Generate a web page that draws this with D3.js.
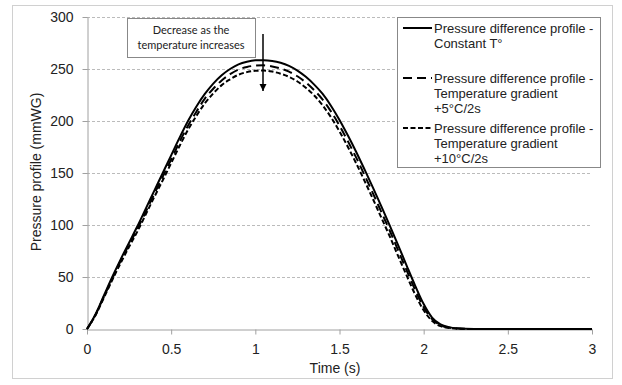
<!DOCTYPE html>
<html>
<head>
<meta charset="utf-8">
<script src="https://cdn.jsdelivr.net/npm/d3@7"></script>
<style>
  body { margin: 0; background: #fff; }
  svg text { font-family: "Liberation Sans", Arial, sans-serif; fill: #222; }
</style>
</head>
<body>
<svg id="chart" width="622" height="385"></svg>
<script>
// Time values (s)
var times = [0, 0.05, 0.1, 0.15, 0.2, 0.25, 0.3, 0.35, 0.4, 0.45, 0.5, 0.55, 0.6, 0.65, 0.7, 0.75, 0.8, 0.85, 0.9, 0.95, 1.0, 1.05,
  1.1, 1.15, 1.2, 1.25, 1.3, 1.35, 1.4, 1.45, 1.5, 1.55, 1.6, 1.65, 1.7, 1.75, 1.8, 1.85, 1.9, 1.95, 2.0, 2.05, 2.1, 2.15, 2.2,
  2.3, 2.5, 3.0]

// Pressure profiles (mmWG)
var constantT = [0, 14, 32, 50, 67, 83, 99, 116, 133, 150, 167, 184, 200, 214, 226, 236, 244, 250, 254.5, 257, 258.3, 258.5,
  257.8, 256, 253, 248.5, 242.5, 235, 226, 214.5, 201, 186, 170, 153, 135.5, 117.5, 99, 80, 60.5, 41.5, 24, 11, 4.5, 1.8, 0.7,
  0.1, 0, 0]
var gradient5 = [0, 13.5, 31, 48.5, 65.5, 81, 96.5, 113, 130, 146.5, 163, 180, 195.5, 209, 221.5, 231, 239, 245, 249.5, 252, 253.2, 253.5,
  252.5, 250.5, 247.5, 243, 237, 229.5, 220.5, 209, 195.5, 180.5, 164.5, 147.5, 130, 112, 94, 75, 56, 37.5, 21, 9.5, 3.6, 1.4, 0.5,
  0, 0, 0]
var gradient10 = [0, 13, 30, 47, 63.5, 79, 94, 110.5, 127, 143, 159.5, 176, 191.5, 205, 217, 226.5, 234.5, 240, 244.5, 247, 248.3, 248.5,
  247.5, 245.5, 242.5, 238, 232, 224.5, 215, 203.5, 190, 175, 159, 142, 124.5, 106.5, 88.5, 69.5, 51, 33, 18, 7.8, 2.8, 1, 0.3,
  0, 0, 0]

var xTicks = [0, 0.5, 1, 1.5, 2, 2.5, 3]
var yTicks = [0, 50, 100, 150, 200, 250, 300]

var seriesNames = [
  ['Pressure difference profile -', 'Constant T°'],
  ['Pressure difference profile -', 'Temperature gradient', '+5°C/2s'],
  ['Pressure difference profile -', 'Temperature gradient', '+10°C/2s']
]
var annotation = ['Decrease as the', 'temperature increases']

var conf = {
  left: 87,
  right: 592,
  top: 17,
  bottom: 329
}

var dashes = [null, '9,5', '5,2.5']

var svg = d3.select('#chart')

// Outer frame
svg.append('rect')
  .attr('x', 12.5).attr('y', 5.5)
  .attr('width', 600).attr('height', 373)
  .attr('fill', '#fff')
  .attr('stroke', '#d0d0d0')

var x = d3.scaleLinear().domain([0, 3]).range([conf.left, conf.right])
var y = d3.scaleLinear().domain([0, 300]).range([conf.bottom, conf.top])

// Gridlines
svg.append('g')
  .selectAll('line')
  .data(yTicks.filter(function (d) { return d > 0 }))
  .enter()
    .append('line')
    .attr('x1', conf.left).attr('x2', conf.right)
    .attr('y1', function (d) { return Math.round(y(d)) + 0.5 })
    .attr('y2', function (d) { return Math.round(y(d)) + 0.5 })
    .attr('stroke', '#bbb')
    .attr('stroke-dasharray', '3,2')

// X axis
var xAxis = svg.append('g')
  .attr('transform', 'translate(0,' + (conf.bottom + 0.5) + ')')
  .call(d3.axisBottom(x).tickValues(xTicks).tickSize(5).tickSizeOuter(0).tickFormat(d3.format('')))
xAxis.select('.domain').attr('stroke', '#a0a0a0')
xAxis.selectAll('.tick line').attr('stroke', '#a0a0a0')
xAxis.selectAll('.tick text').attr('font-size', 14).attr('y', 24).attr('dy', 0)

// Y axis
var yAxis = svg.append('g')
  .attr('transform', 'translate(' + (conf.left + 0.5) + ',0)')
  .call(d3.axisLeft(y).tickValues(yTicks).tickSize(5).tickSizeOuter(0))
yAxis.select('.domain').attr('stroke', '#a0a0a0')
yAxis.selectAll('.tick line').attr('stroke', '#a0a0a0')
yAxis.selectAll('.tick text').attr('font-size', 14).attr('x', -14)

// Axis titles
svg.append('text')
  .attr('x', 335)
  .attr('y', 373)
  .attr('text-anchor', 'middle')
  .attr('font-size', 14)
  .text('Time (s)')

svg.append('text')
  .attr('transform', 'translate(41,' + 172 + ') rotate(-90)')
  .attr('text-anchor', 'middle')
  .attr('font-size', 14)
  .text('Pressure profile (mmWG)')

// Curves
var line = d3.line()
  .x(function (d) { return x(d[0]) })
  .y(function (d) { return y(d[1]) })
  .curve(d3.curveMonotoneX)

var allSeries = [constantT, gradient5, gradient10]
allSeries.forEach(function (vals, i) {
  svg.append('path')
    .datum(times.map(function (t, j) { return [t, vals[j]] }))
    .attr('fill', 'none')
    .attr('stroke', '#000')
    .attr('stroke-width', 2)
    .attr('stroke-dasharray', dashes[i])
    .attr('d', line)
})

// Annotation box
svg.append('rect')
  .attr('x', 127.5).attr('y', 18.5)
  .attr('width', 128).attr('height', 39)
  .attr('fill', '#fff')
  .attr('stroke', '#888')

svg.append('g')
  .selectAll('text')
  .data(annotation)
  .enter()
    .append('text')
    .attr('x', 191)
    .attr('y', function (d, i) { return 34 + i * 15 })
    .attr('text-anchor', 'middle')
    .attr('font-size', 11)
    .style('font-family', 'Lato, "Open Sans", sans-serif')
    .text(function (d) { return d })

// Arrow
svg.append('defs').append('marker')
  .attr('id', 'arrow')
  .attr('viewBox', '0 0 10 10')
  .attr('refX', 10).attr('refY', 5)
  .attr('markerWidth', 5).attr('markerHeight', 5)
  .attr('orient', 'auto')
  .append('path')
    .attr('d', 'M0,0 L10,5 L0,10 z')
    .attr('fill', '#000')

svg.append('line')
  .attr('x1', 263).attr('x2', 263)
  .attr('y1', 34).attr('y2', 91)
  .attr('stroke', '#000')
  .attr('stroke-width', 1.5)
  .attr('marker-end', 'url(#arrow)')

// Legend
var legend = svg.append('g')
legend.append('rect')
  .attr('x', 397.5).attr('y', 17.5)
  .attr('width', 203).attr('height', 150)
  .attr('fill', '#fff')
  .attr('stroke', '#888')

var entryY = [28, 78, 128]
seriesNames.forEach(function (lines, i) {
  legend.append('line')
    .attr('x1', 403).attr('x2', 432)
    .attr('y1', entryY[i]).attr('y2', entryY[i])
    .attr('stroke', '#000')
    .attr('stroke-width', 2)
    .attr('stroke-dasharray', dashes[i])

  legend.selectAll('text.l' + i)
    .data(lines)
    .enter()
      .append('text')
      .attr('class', 'l' + i)
      .attr('x', 434)
      .attr('y', function (d, j) { return entryY[i] + 4.5 + j * 15 })
      .attr('font-size', 13)
      .text(function (d) { return d })
})
</script>
</body>
</html>
